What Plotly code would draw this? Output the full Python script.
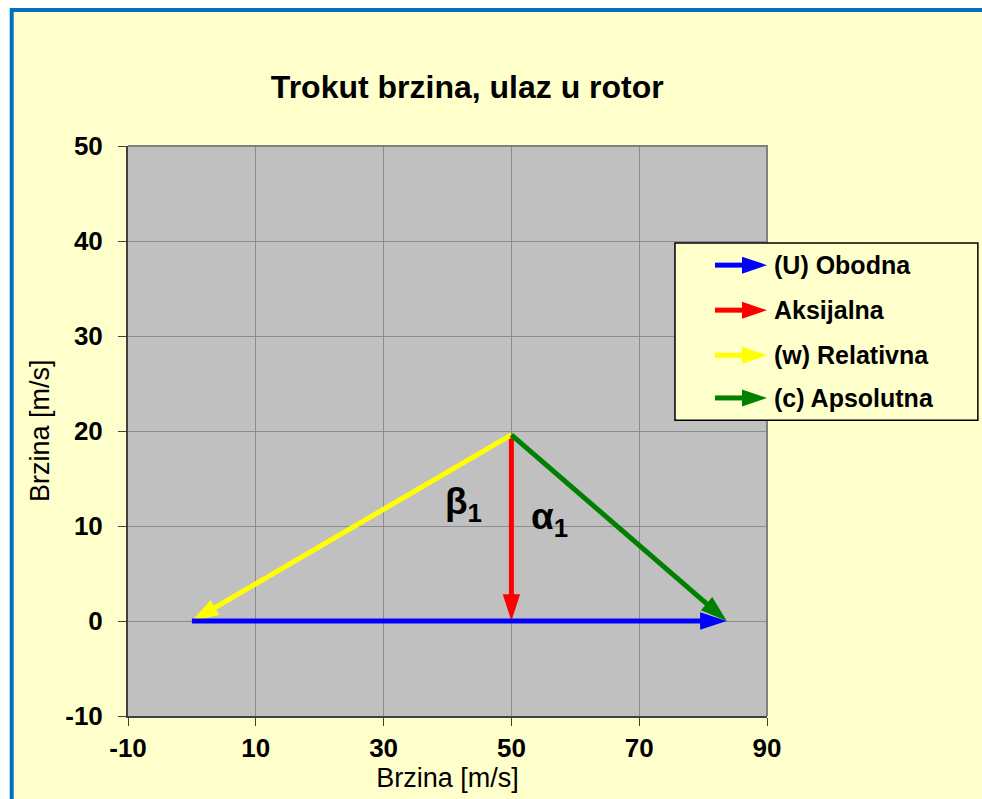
import plotly.graph_objects as go

# vektori trokuta brzina (pocetak -> kraj), m/s
vec_names = ["(U) Obodna", "Aksijalna", "(w) Relativna", "(c) Apsolutna"]
vec_x0 = [0, 50, 50, 50]
vec_y0 = [0, 19.6, 19.6, 19.6]
vec_x1 = [83.7, 50, 0, 83.7]
vec_y1 = [0, 0, 0, 0]
vec_colors = ["#0000FF", "#FF0000", "#FFFF00", "#008000"]

x_ticks = [-10, 10, 30, 50, 70, 90]
y_ticks = [-10, 0, 10, 20, 30, 40, 50]

angle_labels = ["β<sub>1</sub>", "α<sub>1</sub>"]
angle_pos = [(42.5, 12.3), (55.9, 10.7)]

FONT = "Arial, Liberation Sans, sans-serif"

fig = go.Figure()

# crtanje: plava zadnja (preko ostalih)
for i in [1, 2, 3, 0]:
    fig.add_trace(go.Scatter(
        x=[vec_x0[i], vec_x1[i]],
        y=[vec_y0[i], vec_y1[i]],
        mode="lines+markers",
        name=vec_names[i],
        line=dict(color=vec_colors[i], width=5),
        marker=dict(symbol="arrow", angleref="previous", size=[0, 28], opacity=1,
                    color=vec_colors[i], line=dict(width=0)),
        showlegend=False,
        hoverinfo="skip",
    ))

for txt, (ax, ay) in zip(angle_labels, angle_pos):
    fig.add_annotation(x=ax, y=ay, text=f"<b>{txt}</b>", showarrow=False,
                       font=dict(family=FONT, size=37, color="black"))

# pozadina s plavim rubom + sivo podrucje crtanja
shapes = [
    dict(type="rect", xref="paper", yref="paper", x0=-0.1820, x1=1.6, y0=-0.5, y1=1.2386,
         fillcolor="#FFFFCC", line=dict(color="#0070C0", width=4), layer="below"),
    dict(type="rect", xref="paper", yref="paper", x0=0, x1=1, y0=0, y1=1,
         fillcolor="#C0C0C0", line=dict(width=0), layer="below"),
    # gornji i desni rub podrucja crtanja
    dict(type="path", xref="paper", yref="paper", path="M0,1 L1,1 L1,0",
         line=dict(color="#808080", width=2), layer="above"),
    # okvir legende
    dict(type="rect", xref="paper", yref="paper", x0=0.856, x1=1.330, y0=0.519, y1=0.830,
         fillcolor="#FFFFCC", line=dict(color="black", width=1.5), layer="above"),
]

# rucna legenda sa strelicama
leg_y = [0.791, 0.712, 0.633, 0.558]
for name, col, ly in zip(vec_names, vec_colors, leg_y):
    shapes.append(dict(type="path", xref="paper", yref="paper", xsizemode="pixel",
                       ysizemode="pixel", xanchor=1.0, yanchor=ly,
                       path="M-52,0 L-22,0", line=dict(color=col, width=5), layer="above"))
    shapes.append(dict(type="path", xref="paper", yref="paper", xsizemode="pixel",
                       ysizemode="pixel", xanchor=1.0, yanchor=ly,
                       path="M0,0 L-25,-8.5 L-25,8.5 Z", fillcolor=col,
                       line=dict(color=col, width=0), layer="above"))
    fig.add_annotation(xref="paper", yref="paper", x=1.0080, y=ly, text=f"<b>{name}</b>",
                       xanchor="left", yanchor="middle", showarrow=False,
                       font=dict(family=FONT, size=25, color="black"))

# naslov osi y
fig.add_annotation(xref="paper", yref="paper", x=-0.1377, y=0.5, text="Brzina [m/s]",
                   textangle=-90, showarrow=False, xanchor="center", yanchor="middle",
                   font=dict(family=FONT, size=27, color="black"))

axis_common = dict(
    showgrid=True, gridcolor="#8C8C8C", gridwidth=1, zeroline=False,
    showline=True, linecolor="#404040", linewidth=2,
    ticks="outside", ticklen=8, tickcolor="#404040", tickwidth=1,
    tickfont=dict(family=FONT, size=26, color="black", weight="bold"),
)

fig.update_xaxes(axis_common, range=[-10, 90], tickvals=x_ticks,
                 ticktext=[str(v) for v in x_ticks],
                 title=dict(text="Brzina [m/s]", font=dict(family=FONT, size=27, color="black"),
                            standoff=6))
fig.update_yaxes(axis_common, range=[-10, 50], tickvals=y_ticks,
                 ticktext=[str(v) for v in y_ticks], ticklabelstandoff=10)

fig.update_layout(
    width=982, height=799,
    margin=dict(l=128, r=215, t=146, b=83),
    paper_bgcolor="white",
    plot_bgcolor="#C0C0C0",
    shapes=shapes,
    showlegend=False,
    title=dict(text="<b>Trokut brzina, ulaz u rotor</b>", xref="paper", x=0.531,
               xanchor="center", yref="container", y=1 - 87 / 799, yanchor="middle",
               font=dict(family=FONT, size=32, color="black")),
)

# bez margine stranice, da slika popuni cijeli prozor
fig.write_html("out.html", config={"displayModeBar": False},
               post_script="document.body.style.margin='0';document.body.style.overflow='hidden';")
